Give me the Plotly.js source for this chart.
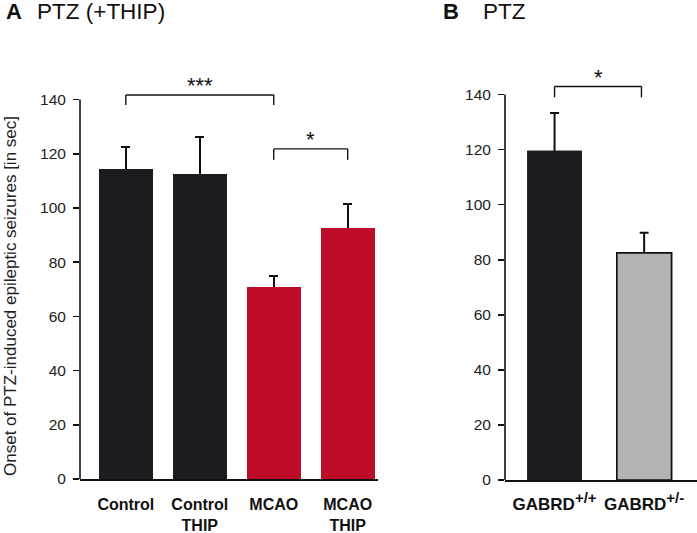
<!DOCTYPE html>
<html><head><meta charset="utf-8">
<script src="https://cdn.plot.ly/plotly-3.0.1.min.js"></script>
<style>html,body{margin:0;padding:0;background:#fff}#chart{width:697px;height:533px}</style>
</head><body><div id="chart"></div>
<script>
// Panel A data
const catsA = ['Control', 'Control<br>THIP', 'MCAO', 'MCAO<br>THIP'];
const valsA = [114.4, 112.5, 70.8, 92.6];
const errA = [8.1, 13.7, 4.1, 8.9];
const colorsA = ['#1c1b20', '#1c1b20', '#be0b27', '#be0b27'];
// Panel B data
const catsB = ['GABRD<sup>+/+</sup>', 'GABRD<sup>+/-</sup>'];
const valsB = [119.6, 82.5];
const errB = [13.7, 7.3];
const colorsB = ['#1c1b20', '#b3b4b6'];
const yTicks = [0, 20, 40, 60, 80, 100, 120, 140];
const yTitle = 'Onset of PTZ-induced epileptic seizures [in sec]';
// significance brackets (category indices, bracket top, leg drop)
const bracketsA = [{a: 0, b: 2, top: 141.7, drop: 3.7, label: '***'}, {a: 2, b: 3, top: 121.8, drop: 4, label: '*'}];
const bracketsB = [{a: 0, b: 0.97, top: 142.9, drop: 3.9, label: '*'}];

const FONT = 'Liberation Sans, Arial, sans-serif';
const INK = '#111';

function barPair(cats, vals, errs, colors, lineW, xa, ya, w) {
  // first copy carries the (upper) error bars, second copy covers the lower half
  return [
    {type: 'bar', x: cats, y: vals, xaxis: xa, yaxis: ya, width: w,
     marker: {color: colors, line: {width: lineW, color: INK}},
     error_y: {type: 'data', array: errs, color: INK, thickness: 2, width: 4.5},
     hoverinfo: 'skip', showlegend: false},
    {type: 'bar', x: cats, y: vals, xaxis: xa, yaxis: ya, width: w,
     marker: {color: colors, line: {width: lineW, color: INK}},
     hoverinfo: 'skip', showlegend: false}
  ];
}
const traces = [].concat(
  barPair(catsA, valsA, errA, colorsA, 0, 'x', 'y', 0.73),
  barPair(catsB, valsB, errB, colorsB, [0, 1.6], 'x2', 'y2', 0.61)
);

const shapes = [];
const annotations = [];
function axisLine(xr, yr) {
  shapes.push({type: 'line', xref: xr + ' domain', yref: yr, x0: 0, x1: 0, y0: 0, y1: 140, line: {color: INK, width: 1.6}});
}
axisLine('x', 'y'); axisLine('x2', 'y2');
function bracket(br, xr, yr) {
  const L = {color: INK, width: 1.4};
  shapes.push({type: 'line', xref: xr, yref: yr, x0: br.a, x1: br.b, y0: br.top, y1: br.top, line: L});
  shapes.push({type: 'line', xref: xr, yref: yr, x0: br.a, x1: br.a, y0: br.top, y1: br.top - br.drop, line: L});
  shapes.push({type: 'line', xref: xr, yref: yr, x0: br.b, x1: br.b, y0: br.top, y1: br.top - br.drop, line: L});
  annotations.push({xref: xr, yref: yr, x: (br.a + br.b) / 2, y: br.top, yanchor: 'bottom', yshift: -5,
    text: br.label, showarrow: false, font: {family: FONT, size: 22, color: INK}});
}
bracketsA.forEach(b => bracket(b, 'x', 'y'));
bracketsB.forEach(b => bracket(b, 'x2', 'y2'));

annotations.push({xref: 'paper', yref: 'paper', x: 4 / 697, y: 1 - 12 / 533, xanchor: 'left', yanchor: 'middle',
  text: '<b>A</b>', showarrow: false, font: {family: FONT, size: 22, color: INK}});
annotations.push({xref: 'paper', yref: 'paper', x: 35 / 697, y: 1 - 12 / 533, xanchor: 'left', yanchor: 'middle',
  text: 'PTZ (+THIP)', showarrow: false, font: {family: FONT, size: 22.5, color: INK}});
annotations.push({xref: 'paper', yref: 'paper', x: 441 / 697, y: 1 - 12 / 533, xanchor: 'left', yanchor: 'middle',
  text: '<b>B</b>', showarrow: false, font: {family: FONT, size: 22, color: INK}});
annotations.push({xref: 'paper', yref: 'paper', x: 481 / 697, y: 1 - 12 / 533, xanchor: 'left', yanchor: 'middle',
  text: 'PTZ', showarrow: false, font: {family: FONT, size: 22.5, color: INK}});
// y-axis title of panel A (placed as rotated text)
annotations.push({xref: 'paper', yref: 'paper', x: 10 / 697, y: 1 - 296 / 533, xanchor: 'center', yanchor: 'middle',
  textangle: -90, text: yTitle, showarrow: false, font: {family: FONT, size: 17, color: '#222'}});

const yCommon = {range: [0, 150], tickvals: yTicks, ticktext: yTicks.map(String), showline: false, showgrid: false, zeroline: false,
  ticks: 'outside', ticklen: 6, tickwidth: 1.6, tickcolor: INK, ticklabelstandoff: 4,
  tickfont: {family: FONT, size: 15.5, color: '#222'}, fixedrange: true};
const xCommon = {type: 'category', showline: true, linecolor: INK, linewidth: 1.6, showgrid: false, zeroline: false,
  ticks: '', ticklabelstandoff: 10, fixedrange: true};

const supBig = c => c.replace(/<sup>(.*?)<\/sup>/, '<sup><span style="font-size:15px">$1</span></sup>');

const layout = {
  width: 697, height: 533, margin: {l: 0, r: 0, t: 0, b: 0}, paper_bgcolor: '#fff', plot_bgcolor: '#fff',
  font: {family: FONT, color: INK}, barmode: 'overlay', bargap: 0, showlegend: false,
  xaxis: Object.assign({}, xCommon, {domain: [80 / 697, 378 / 697], range: [-0.62, 3.41], anchor: 'y',
    tickfont: {family: FONT, size: 16, color: INK},
    tickvals: catsA, ticktext: catsA.map(c => '<b>' + c + '</b>')}),
  yaxis: Object.assign({}, yCommon, {domain: [54 / 533, 460.5 / 533], anchor: 'x'}),
  xaxis2: Object.assign({}, xCommon, {domain: [505 / 697, 1], range: [-0.553, 1.59], anchor: 'y2',
    tickfont: {family: FONT, size: 17, color: INK}, ticklabelstandoff: 8,
    tickvals: catsB, ticktext: catsB.map(c => '<b>' + supBig(c) + '</b>')}),
  yaxis2: Object.assign({}, yCommon, {domain: [53 / 533, 466 / 533], anchor: 'x2'}),
  shapes: shapes, annotations: annotations
};
Plotly.newPlot('chart', traces, layout, {staticPlot: true, displayModeBar: false});
</script></body></html>
